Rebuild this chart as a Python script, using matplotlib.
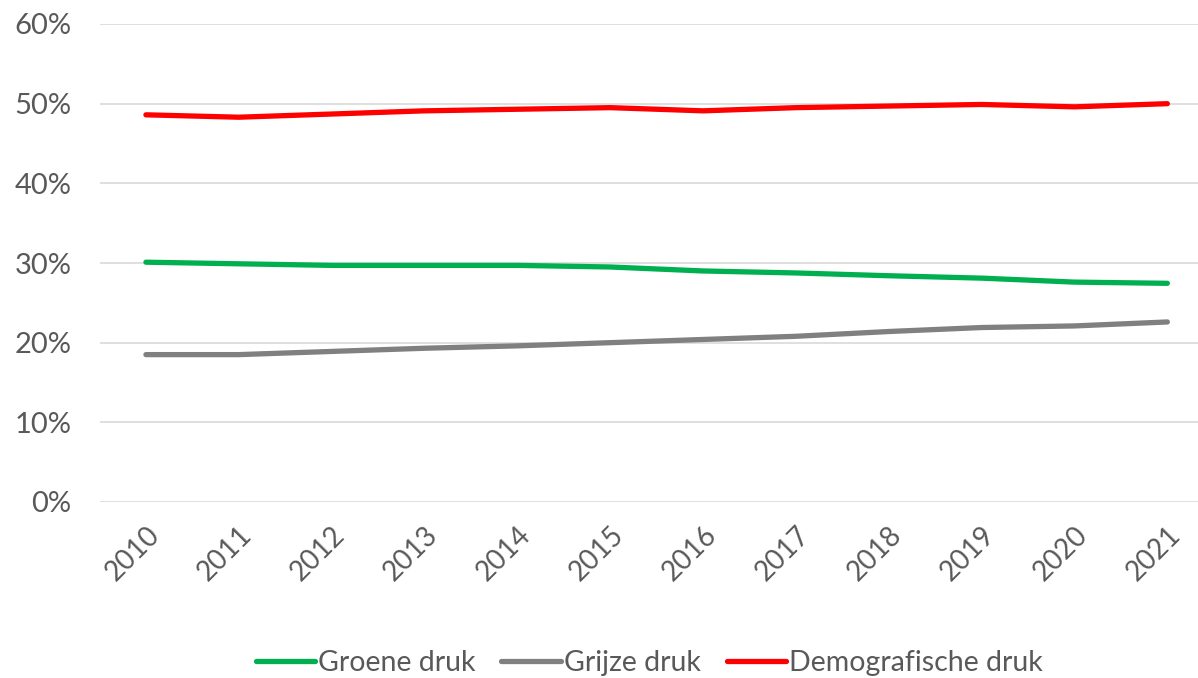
import matplotlib.pyplot as plt
from matplotlib.ticker import PercentFormatter

plt.rcParams["font.family"] = ["Lato", "DejaVu Sans"]

years = ["2010", "2011", "2012", "2013", "2014", "2015",
         "2016", "2017", "2018", "2019", "2020", "2021"]
groene_druk = [30.1, 29.9, 29.7, 29.7, 29.7, 29.5, 29.0, 28.75, 28.4, 28.1, 27.6, 27.45]
grijze_druk = [18.5, 18.5, 18.9, 19.3, 19.6, 20.0, 20.4, 20.8, 21.4, 21.9, 22.1, 22.6]
demografische_druk = [48.6, 48.3, 48.7, 49.1, 49.3, 49.5, 49.1, 49.5, 49.7, 49.9, 49.6, 50.0]
y_ticks = [0, 10, 20, 30, 40, 50, 60]

text_color = "#595959"

fig = plt.figure(figsize=(11.98, 6.78), dpi=100)
ax = fig.add_axes([99.5 / 1198, 176 / 678, (1198 - 99.5) / 1198, 478 / 678])

x = list(range(len(years)))
ax.plot(x, groene_druk, color="#00B050", lw=3.8, solid_capstyle="round", label="Groene druk")
ax.plot(x, grijze_druk, color="#808080", lw=3.8, solid_capstyle="round", label="Grijze druk")
ax.plot(x, demografische_druk, color="#FF0000", lw=3.8, solid_capstyle="round",
        label="Demografische druk")

ax.set_ylim(0, 60)
ax.set_yticks(y_ticks)
ax.yaxis.set_major_formatter(PercentFormatter(decimals=0))
ax.set_xlim(-0.5, 11.33)
ax.set_xticks(x)
ax.set_xticklabels(years, rotation=45, ha="right", rotation_mode="anchor")

ax.grid(axis="y", color="#D9D9D9", lw=1.2)
ax.set_axisbelow(True)
for side in ["top", "right", "left", "bottom"]:
    ax.spines[side].set_visible(False)
ax.tick_params(axis="y", length=0, labelsize=21, colors=text_color, pad=20)
ax.tick_params(axis="x", length=0, labelsize=20, colors=text_color, pad=14)

leg = fig.legend(loc="lower center", bbox_to_anchor=(0.542, -0.035), ncol=3, frameon=False,
                 fontsize=20.5, handlelength=2.1, columnspacing=0.9, handletextpad=0.1)
for t in leg.get_texts():
    t.set_color(text_color)

fig.savefig("out.png", dpi=100)
